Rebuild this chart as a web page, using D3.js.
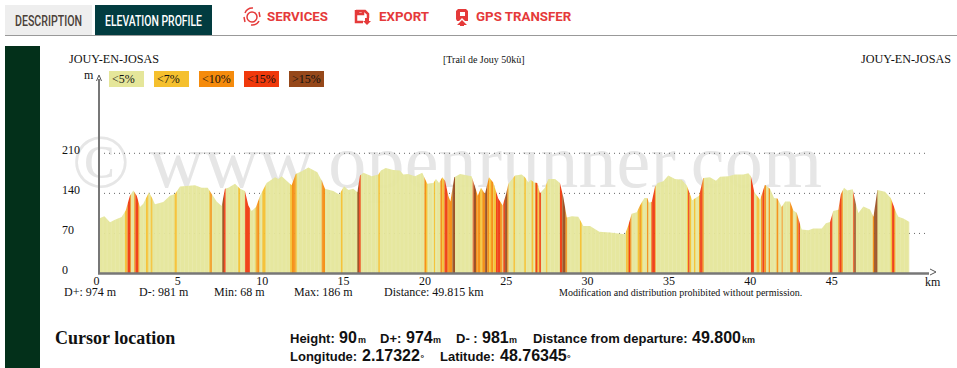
<!DOCTYPE html>
<html>
<head>
<meta charset="utf-8">
<script src="https://d3js.org/d3.v7.min.js"></script>
<style>
  html, body { margin: 0; padding: 0; background: #fff; overflow: hidden; }
  svg { display: block; }
  text { font-family: "Liberation Serif", serif; fill: #111; }
  .sans { font-family: "Liberation Sans", sans-serif; font-weight: bold; }
  .tab { font-family: Roboto, sans-serif; font-size: 15px; font-weight: 500; }
  .menu { font-family: Roboto, sans-serif; font-size: 13.3px; font-weight: 700; fill: #e53a3a; }
</style>
</head>
<body>
<div id="chart"></div>
<script>
// profile: km / metres
const profileKm = [0, 0.33, 0.68, 0.98, 1.39, 1.64, 1.9, 2.11, 2.32, 2.52, 2.72, 3.07, 3.28, 3.44, 3.95, 4.36, 4.67, 4.98, 5.9, 6.31, 6.68, 6.93, 7.23, 7.54, 7.74, 7.95, 8.36, 8.67, 8.97, 9.18, 9.38, 9.65, 9.9, 10.3, 10.82, 11.02, 11.23, 11.53, 11.84, 12.09, 12.46, 12.87, 13.42, 13.69, 13.89, 14.4, 14.77, 15.06, 15.33, 15.63, 15.88, 16.04, 16.25, 16.66, 16.76, 17.17, 17.33, 17.62, 18.09, 18.5, 18.7, 19.0, 19.42, 19.87, 20.04, 20.18, 20.55, 20.71, 20.9, 21.1, 21.27, 21.47, 21.6, 21.72, 21.84, 22.19, 22.9, 23.15, 23.28, 23.48, 23.72, 23.97, 24.23, 24.54, 24.81, 25.02, 25.16, 25.57, 25.98, 26.18, 26.39, 26.53, 26.75, 26.94, 27.1, 27.41, 27.62, 28.03, 28.33, 28.54, 28.75, 29.06, 29.46, 29.77, 30.18, 30.75, 31.41, 32.33, 32.53, 32.74, 33.05, 33.25, 33.52, 33.7, 33.8, 33.97, 34.17, 34.34, 34.68, 34.99, 35.4, 35.81, 36.12, 36.32, 36.46, 36.74, 36.88, 37.14, 37.55, 37.92, 38.17, 38.68, 39.09, 39.6, 39.91, 40.07, 40.28, 40.63, 40.93, 41.24, 41.49, 41.7, 41.96, 42.17, 42.47, 42.68, 42.88, 43.19, 43.6, 43.9, 44.42, 44.68, 44.93, 45.13, 45.44, 45.6, 45.79, 45.99, 46.32, 46.52, 46.67, 46.98, 47.39, 47.6, 47.84, 48.31, 48.66, 48.99, 49.13, 49.44, 49.815];
const profileEle = [96, 100, 89.5, 94, 98.7, 110, 136, 145, 136, 116, 122, 142, 131, 121, 125, 136, 139, 152, 154, 150, 150, 139, 126, 118, 148, 150, 157, 148, 144, 119, 109, 116, 136, 158, 168, 165, 170, 162, 154, 174, 178.5, 185, 177, 162, 148, 144, 138, 152.5, 146, 148, 142, 171, 176, 171, 170, 173, 180, 184.5, 181, 180, 173, 174, 170, 176, 165, 157, 158, 165, 158, 168, 162, 136, 126, 148, 168, 174, 170, 148, 136, 150, 139, 168, 159, 131, 119, 139, 157, 171, 173, 168, 159, 164, 159, 158, 140, 150, 165, 165, 158, 133, 98, 100, 99, 83, 83, 73, 71.5, 68.5, 84, 104.5, 107, 119, 132, 132, 124, 125, 151, 158, 161, 171, 165, 164, 154, 139, 128, 133, 136, 167, 168, 162, 169, 170, 173, 173, 175, 170, 142, 129, 155, 148, 132, 131, 116, 126, 126, 110, 106, 77, 75.5, 78.5, 78.5, 88, 90, 109, 111.5, 139, 150, 145, 147, 122, 105.5, 117, 112, 99, 146, 143, 132, 107, 99, 96, 90];

// steep stretches: start km, end km, slope class (index into slopeLabels)
const bandStart = [1.6, 1.7, 1.76, 1.93, 2.17, 2.23, 2.42, 2.89, 3.18, 4.65, 6.78, 6.84, 7.58, 7.68, 8.56, 8.97, 9.62, 9.68, 10.04, 11.74, 11.86, 12.09, 13.69, 14.87, 15.88, 15.98, 17.17, 20.0, 20.1, 20.59, 20.98, 21.1, 21.23, 21.43, 21.72, 22.97, 23.03, 23.17, 23.28, 23.42, 23.56, 23.72, 23.87, 23.97, 24.1, 24.24, 24.4, 24.65, 24.85, 24.95, 25.1, 25.47, 26.14, 26.59, 26.8, 26.84, 26.96, 27.06, 27.47, 28.33, 28.47, 28.68, 29.56, 32.39, 32.49, 32.57, 32.66, 33.11, 33.21, 33.31, 33.68, 33.93, 33.97, 34.17, 36.15, 36.2, 36.3, 36.57, 36.88, 36.94, 37.1, 40.07, 40.42, 40.69, 40.77, 40.9, 41.16, 41.65, 41.96, 42.47, 42.88, 42.98, 44.93, 45.44, 45.5, 45.65, 46.36, 46.42, 47.56, 47.64, 48.66, 48.74, 48.88];
const bandEnd = [1.7, 1.76, 1.93, 1.97, 2.23, 2.42, 2.48, 3.03, 3.28, 4.79, 6.84, 6.93, 7.68, 7.78, 8.67, 9.28, 9.68, 9.85, 10.24, 11.86, 12.09, 12.15, 13.89, 14.97, 15.98, 16.08, 17.27, 20.1, 20.18, 20.65, 21.1, 21.23, 21.43, 21.72, 21.88, 23.03, 23.17, 23.28, 23.42, 23.56, 23.72, 23.87, 23.97, 24.1, 24.24, 24.4, 24.65, 24.79, 24.95, 25.1, 25.16, 25.57, 26.24, 26.69, 26.84, 26.96, 27.06, 27.16, 27.55, 28.47, 28.68, 28.77, 29.66, 32.49, 32.57, 32.66, 32.72, 33.21, 33.31, 33.39, 33.76, 33.97, 34.17, 34.21, 36.2, 36.3, 36.39, 36.65, 36.94, 37.1, 37.16, 40.26, 40.58, 40.77, 40.9, 41.0, 41.24, 41.75, 42.02, 42.64, 42.98, 43.08, 45.07, 45.5, 45.65, 45.71, 46.42, 46.52, 47.64, 47.84, 48.74, 48.88, 48.94];
const bandClass = [1, 2, 3, 2, 2, 3, 2, 1, 1, 1, 1, 2, 4, 3, 1, 3, 1, 2, 1, 1, 2, 1, 2, 1, 4, 3, 1, 2, 1, 1, 2, 1, 3, 2, 4, 3, 4, 2, 2, 1, 2, 4, 2, 1, 2, 1, 3, 2, 3, 4, 2, 1, 1, 1, 2, 3, 1, 3, 1, 3, 4, 2, 1, 1, 2, 3, 2, 1, 2, 1, 2, 2, 3, 2, 1, 3, 1, 1, 2, 3, 2, 3, 1, 2, 3, 2, 2, 2, 2, 2, 2, 3, 3, 2, 3, 2, 3, 4, 2, 4, 1, 3, 2];

const slopeLabels = ['<5%', '<7%', '<10%', '<15%', '>15%'];
const slopeColors = ['#e5e69a', '#f5c02e', '#f58b0c', '#f0390c', '#96481a'];
const xTicks = [0, 5, 10, 15, 20, 25, 30, 35, 40, 45];
const yTicks = [0, 70, 140, 210];
const statLabels = ['D+: 974 m', 'D-: 981 m', 'Min: 68 m', 'Max: 186 m', 'Distance: 49.815 km'];
const statX = [64, 139, 214, 294, 384];

const svg = d3.select('#chart').append('svg')
  .attr('width', 957)
  .attr('height', 368);

const x = d3.scaleLinear().domain([0, 49.815]).range([99, 909.5]);
const y = d3.scaleLinear().domain([0, 210]).range([273.5, 153.3]);
const points = profileKm.map((km, i) => ({ km: km, ele: profileEle[i] }));

// header
svg.append('rect').attr('x', 5).attr('y', 5).attr('width', 87).attr('height', 30).attr('fill', '#eeeeee');
svg.append('rect').attr('x', 95).attr('y', 5).attr('width', 117).attr('height', 30).attr('fill', '#023c40');
svg.append('line').attr('x1', 5).attr('x2', 957).attr('y1', 35.5).attr('y2', 35.5).attr('stroke', '#999');
svg.append('text').attr('class', 'tab').attr('x', 15).attr('y', 26)
  .attr('textLength', 67).attr('lengthAdjust', 'spacingAndGlyphs').style('fill', '#4a4038').text('DESCRIPTION');
svg.append('text').attr('class', 'tab').attr('x', 105).attr('y', 26)
  .attr('textLength', 97).attr('lengthAdjust', 'spacingAndGlyphs').style('fill', '#fff').text('ELEVATION PROFILE');
svg.append('text').attr('class', 'menu').attr('x', 267).attr('y', 21).text('SERVICES');
svg.append('text').attr('class', 'menu').attr('x', 379).attr('y', 21).text('EXPORT');
svg.append('text').attr('class', 'menu').attr('x', 476).attr('y', 21).text('GPS TRANSFER');

// menu icons
const icons = svg.append('g').attr('fill', 'none').attr('stroke', '#e53a3a');
icons.append('circle').attr('cx', 252).attr('cy', 17).attr('r', 5).attr('stroke-width', 1.5);
icons.append('path').attr('stroke-width', 1.5)
  .attr('d', 'M245 13a8 8 0 0 1 8-5M259 21a8 8 0 0 1-8 4M245 22l-1-5M259 12l1 5');
icons.append('path').attr('stroke-width', 2.5).attr('d', 'M356 11h9l3 3v4M356 10v12h7M358 10v4h5v-4');
icons.append('path').attr('fill', '#e53a3a').attr('stroke', 'none').attr('d', 'M365 18h4v3h2l-4 4-4-4h2z');
icons.append('path').attr('fill', '#e53a3a').attr('stroke', 'none')
  .attr('fill-rule', 'evenodd')
  .attr('d', 'M458 9h8l2 2v10l-3 0-3-3-3 3h-2l-1-2v-8zM460 12v4h5v-4zM462 20l5 5h-3v1h-4v-1h-3z');

// side bar
svg.append('rect').attr('x', 5).attr('y', 46).attr('width', 35).attr('height', 322).attr('fill', '#03301a');

// watermark
svg.append('text').attr('x', 72).attr('y', 187)
  .attr('font-size', 76)
  .attr('textLength', 750)
  .style('fill', '#e6e6e6')
  .text('© www.openrunner.com');

// grid
svg.append('g').selectAll('line')
  .data(yTicks.slice(1))
  .enter().append('line')
  .attr('x1', x(0)).attr('x2', 926)
  .attr('y1', d => y(d)).attr('y2', d => y(d))
  .attr('stroke', '#666')
  .attr('stroke-dasharray', '1,4');

// profile
const area = d3.area()
  .x(d => x(d.km))
  .y0(y(0))
  .y1(d => y(d.ele));

svg.append('clipPath').attr('id', 'profile-clip')
  .append('path').attr('d', area(points));

const profile = svg.append('g').attr('clip-path', 'url(#profile-clip)').attr('opacity', 0.94);

profile.append('rect')
  .attr('x', x(0)).attr('y', y(210))
  .attr('width', x(49.815) - x(0)).attr('height', y(0) - y(210))
  .attr('fill', slopeColors[0]);

profile.selectAll('.band')
  .data(bandStart)
  .enter().append('rect')
  .attr('class', 'band')
  .attr('x', d => x(d))
  .attr('y', y(210))
  .attr('width', (d, i) => x(bandEnd[i]) - x(d))
  .attr('height', y(0) - y(210))
  .attr('fill', (d, i) => slopeColors[bandClass[i]]);

// faint seams between the bars
profile.selectAll('.seam')
  .data(d3.range(0, 49.8, 0.25))
  .enter().append('line')
  .attr('class', 'seam')
  .attr('x1', d => x(d)).attr('x2', d => x(d))
  .attr('y1', y(210)).attr('y2', y(0))
  .attr('stroke', '#fff')
  .attr('stroke-opacity', 0.12);

// axes
const xAxis = svg.append('g')
  .attr('transform', `translate(0, ${y(0)})`)
  .call(d3.axisBottom(x).tickValues(xTicks).tickSize(0));
xAxis.select('.domain').remove();
xAxis.selectAll('text')
  .attr('x', -6).attr('y', 3)
  .attr('text-anchor', 'start')
  .attr('font-family', 'Liberation Serif')
  .attr('font-size', 12)
  .style('fill', '#111');

const yAxis = svg.append('g')
  .attr('transform', 'translate(99, 0)')
  .call(d3.axisLeft(y).tickValues(yTicks).tickSize(0));
yAxis.select('.domain').remove();
yAxis.selectAll('text')
  .attr('x', -37).attr('dy', '0')
  .attr('text-anchor', 'start')
  .attr('font-family', 'Liberation Serif')
  .attr('font-size', 12)
  .style('fill', '#111');

svg.append('line').attr('x1', 99).attr('x2', 99).attr('y1', 79).attr('y2', 274)
  .attr('stroke', '#777').attr('stroke-width', 2);
svg.append('line').attr('x1', 98).attr('x2', 929).attr('y1', 273.5).attr('y2', 273.5)
  .attr('stroke', '#777').attr('stroke-width', 2.5);
svg.append('path').attr('fill', 'none').attr('stroke', '#555')
  .attr('d', 'M96.5 81L99 75L101.5 81M930 269L936 272L930 275');
svg.append('text').attr('x', 84).attr('y', 79).attr('font-size', 12).text('m');
svg.append('text').attr('x', 925).attr('y', 286).attr('font-size', 12).text('km');

// titles
svg.append('text').attr('x', 69).attr('y', 63).attr('font-size', 12.2).text('JOUY-EN-JOSAS');
svg.append('text').attr('x', 951).attr('y', 63).attr('font-size', 12.2).attr('text-anchor', 'end').text('JOUY-EN-JOSAS');
svg.append('text').attr('x', 443).attr('y', 63).attr('font-size', 10).text('[Trail de Jouy 50kù]');

// legend
const legend = svg.append('g').selectAll('g')
  .data(slopeLabels)
  .enter().append('g')
  .attr('transform', (d, i) => `translate(${109 + i * 45}, 71)`);
legend.append('rect')
  .attr('width', 35).attr('height', 16)
  .attr('fill', (d, i) => slopeColors[i]);
legend.append('text')
  .attr('x', 3).attr('y', 12).attr('font-size', 12)
  .text(d => d);

// stats
svg.append('g').selectAll('text')
  .data(statLabels)
  .enter().append('text')
  .attr('x', (d, i) => statX[i])
  .attr('y', 296)
  .attr('font-size', 12)
  .text(d => d);
svg.append('text').attr('x', 559).attr('y', 296).attr('font-size', 10)
  .text('Modification and distribution prohibited without permission.');

// cursor box
svg.append('text').attr('x', 55).attr('y', 344).attr('font-size', 18).attr('font-weight', 'bold').text('Cursor location');

const cursorRow = (yPos, parts) => {
  parts.forEach(p => {
    svg.append('text')
      .attr('class', 'sans')
      .attr('x', p[0])
      .attr('y', yPos)
      .attr('font-size', p[2])
      .text(p[1]);
  });
};
cursorRow(343, [
  [290, 'Height:', 13], [339, '90', 16], [358, 'm', 9],
  [380, 'D+:', 13], [406, '974', 16], [433, 'm', 9],
  [456, 'D- :', 13], [482, '981', 16], [509, 'm', 9],
  [533, 'Distance from departure:', 13], [692, '49.800', 16], [742, 'km', 9]
]);
cursorRow(361, [
  [290, 'Longitude:', 13], [362, '2.17322', 16], [420.5, '°', 9],
  [440, 'Latitude:', 13], [500, '48.76345', 16], [567, '°', 9]
]);
</script>
</body>
</html>
